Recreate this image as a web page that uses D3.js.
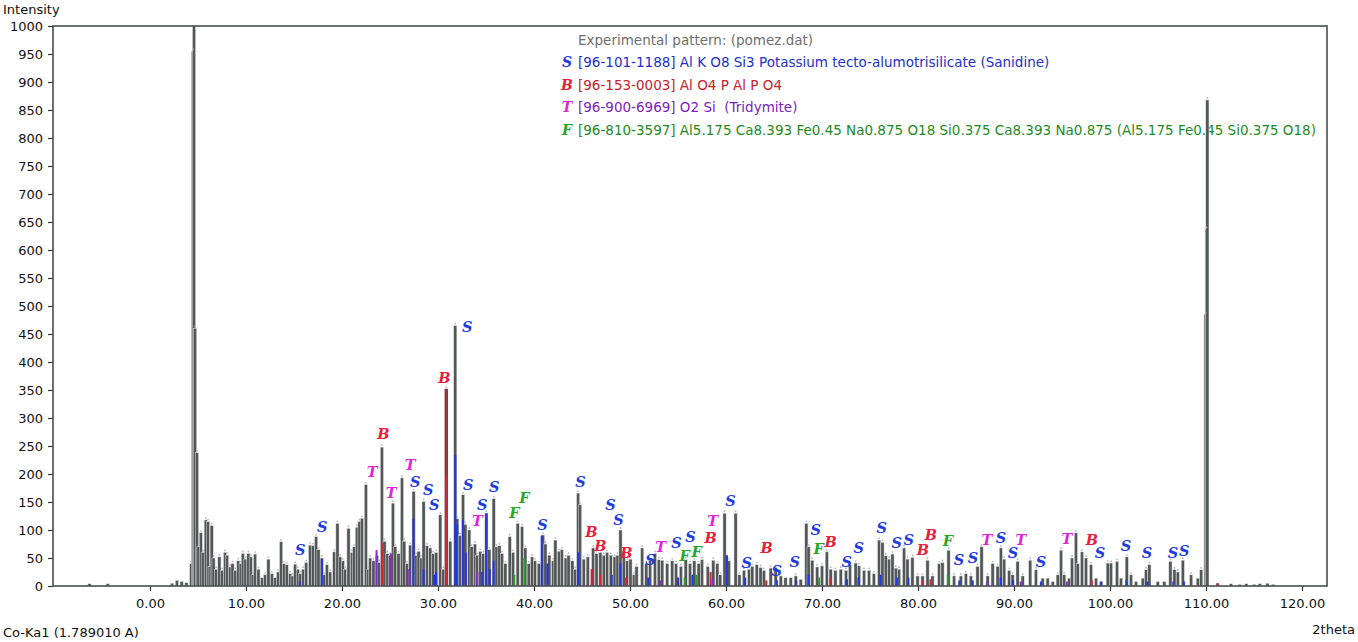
<!DOCTYPE html>
<html>
<head>
<meta charset="utf-8">
<script src="https://cdn.jsdelivr.net/npm/d3@7"></script>
<style>
  html, body { margin: 0; padding: 0; background: #ffffff; }
  svg { display: block; font-family: "DejaVu Sans", Verdana, sans-serif; }
  .mark { font-family: "DejaVu Serif", serif; font-style: italic; font-weight: bold; }
  .legend-label { white-space: pre; }
</style>
</head>
<body>
<div id="pattern-chart"></div>
<script>
// Experimental pattern, [2theta, intensity]
const experimental = [
  [-6.3, 4], [-4.4, 4], [2.3, 5], [2.8, 10], [3.3, 8], [3.8, 6], [4.3, 40],
  [4.48, 955], [4.59, 1000], [4.70, 460], [4.90, 238], [5.05, 70], [5.30, 95], [5.50, 60],
  [5.81, 118], [6.05, 115], [6.22, 35], [6.43, 108], [6.62, 50], [6.90, 30], [7.23, 52],
  [7.50, 28], [7.82, 60], [8.03, 55], [8.34, 34], [8.60, 40], [8.90, 28], [9.20, 45],
  [9.45, 40], [9.67, 58], [9.95, 48], [10.25, 58], [10.50, 52], [10.70, 20], [10.95, 57],
  [11.30, 30], [11.68, 15], [12.00, 20], [12.34, 48], [12.70, 22], [13.03, 15], [13.35, 25],
  [13.66, 79], [13.95, 40], [14.25, 38], [14.60, 22], [14.85, 18], [15.12, 39], [15.40, 30],
  [15.64, 22], [15.95, 30], [16.27, 42], [16.68, 73], [16.97, 72], [17.31, 88], [17.55, 65],
  [17.90, 50], [18.15, 20], [18.43, 38], [18.77, 25], [19.19, 61], [19.53, 112], [19.81, 52],
  [20.09, 45], [20.33, 30], [20.68, 103], [21.03, 60], [21.27, 70], [21.55, 105], [21.82, 115],
  [22.08, 121], [22.49, 181], [22.75, 30], [22.94, 50], [23.28, 45], [23.64, 55], [23.88, 42],
  [24.16, 248], [24.43, 80], [24.74, 58], [25.03, 55], [25.31, 148], [25.55, 70], [25.89, 58],
  [26.25, 193], [26.49, 80], [26.77, 40], [27.11, 73], [27.46, 169], [27.75, 55], [27.98, 62],
  [28.23, 50], [28.50, 151], [28.85, 72], [29.20, 68], [29.51, 58], [29.82, 60], [30.24, 127],
  [30.55, 30], [30.87, 352], [31.28, 80], [31.80, 465], [32.01, 120], [32.30, 90], [32.61, 163],
  [32.85, 110], [33.26, 100], [33.50, 70], [33.85, 75], [34.07, 55], [34.41, 62], [34.72, 58],
  [35.04, 130], [35.35, 65], [35.80, 156], [36.10, 70], [36.40, 72], [36.67, 58], [37.02, 40],
  [37.47, 88], [37.82, 60], [38.30, 112], [38.76, 106], [39.10, 68], [39.45, 40], [39.80, 52],
  [40.10, 45], [40.50, 40], [40.95, 91], [41.19, 75], [41.60, 55], [42.00, 45], [42.23, 82],
  [42.60, 62], [42.90, 65], [43.30, 50], [43.60, 55], [44.00, 45], [44.30, 30], [44.60, 166],
  [44.80, 145], [45.18, 48], [45.60, 52], [46.16, 68], [46.51, 58], [46.92, 60], [47.27, 55],
  [47.62, 60], [48.00, 55], [48.40, 52], [48.70, 55], [49.01, 100], [49.35, 60], [49.71, 45],
  [50.05, 48], [50.40, 20], [50.68, 35], [51.27, 68], [51.70, 40], [52.10, 45], [52.60, 58],
  [53.00, 47], [53.36, 46], [53.88, 40], [54.40, 45], [54.80, 40], [55.30, 35], [55.80, 47],
  [56.25, 40], [56.70, 45], [57.15, 40], [57.50, 47], [58.10, 35], [58.68, 46], [59.10, 40],
  [59.40, 20], [59.85, 130], [60.30, 45], [61.00, 130], [61.40, 20], [61.87, 28], [62.40, 30],
  [62.74, 35], [63.20, 38], [63.60, 33], [63.95, 28], [64.65, 32], [65.17, 33], [65.70, 18],
  [66.20, 15], [66.74, 15], [67.26, 18], [67.78, 12], [68.37, 112], [68.60, 70], [68.99, 46],
  [69.50, 34], [70.00, 36], [70.50, 61], [70.90, 30], [71.40, 28], [71.95, 30], [72.50, 28],
  [72.92, 38], [73.50, 41], [73.86, 36], [74.38, 28], [74.90, 28], [75.40, 22], [75.95, 82],
  [76.30, 78], [76.64, 54], [76.99, 48], [77.34, 57], [77.69, 32], [78.03, 30], [78.55, 68],
  [78.90, 48], [79.42, 51], [79.95, 18], [80.47, 18], [80.99, 46], [81.51, 18], [82.20, 40],
  [82.55, 42], [83.18, 64], [83.76, 18], [84.46, 18], [84.98, 22], [85.50, 18], [86.20, 35],
  [86.62, 70], [87.25, 18], [87.77, 40], [88.29, 35], [88.63, 68], [88.98, 48], [89.50, 28],
  [89.85, 20], [90.37, 44], [90.90, 18], [91.69, 46], [92.28, 29], [92.98, 14], [93.50, 14],
  [94.03, 8], [94.55, 20], [94.90, 64], [95.23, 20], [95.76, 14], [96.04, 50], [96.45, 95],
  [96.63, 40], [97.08, 61], [97.50, 50], [98.02, 38], [98.54, 14], [99.06, 8], [99.76, 41],
  [100.10, 41], [100.73, 44], [101.15, 14], [101.74, 52], [102.19, 20], [102.71, 8], [103.41, 14],
  [103.75, 29], [104.10, 38], [104.97, 8], [105.66, 8], [106.29, 44], [106.71, 29], [107.06, 25],
  [107.58, 46], [108.45, 20], [109.14, 14], [109.50, 29], [109.95, 485], [110.06, 637], [110.14, 868],
  [111.2, 5], [112.6, 4], [113.5, 3], [114.2, 4], [115.0, 3], [115.6, 4], [116.4, 5], [117.0, 3]
];

// Experimental peaks drawn in the colour of their matched phase, [2theta, intensity]
const berliniteMatched = [[30.87, 352]];

// Reference sticks per phase, [2theta, intensity]
const sanidineSticks = [
  [15.6, 8], [17.9, 48], [27.45, 120], [28.5, 30], [29.6, 20], [29.8, 25], [31.8, 234], [32.0, 110],
  [32.6, 118], [32.9, 60], [34.6, 25], [35.05, 130], [35.4, 30], [35.8, 45], [40.8, 90], [41.4, 40],
  [44.6, 60], [48.1, 20], [49.0, 40], [51.9, 15], [55.0, 15], [56.5, 20], [60.1, 55], [62.0, 15],
  [65.3, 10], [67.3, 10], [68.6, 20], [72.6, 12], [73.8, 15], [76.1, 20], [77.8, 15], [79.0, 15],
  [84.3, 10], [85.7, 10], [88.6, 15], [89.9, 10], [92.8, 8], [99.1, 8], [101.7, 10], [103.9, 8],
  [106.6, 8], [107.7, 8]
];
const berliniteSticks = [
  [24.2, 77], [30.87, 198], [46.0, 30], [46.9, 20], [49.6, 15], [58.4, 25], [64.2, 10], [70.9, 15],
  [80.5, 10], [81.3, 12], [98.1, 10], [111.2, 5]
];
const tridymiteSticks = [
  [23.6, 64], [25.1, 58], [27.0, 30], [34.1, 25], [53.2, 10], [58.6, 12], [87.2, 8], [90.7, 8], [95.5, 8]
];
const mayeniteSticks = [
  [37.95, 20], [39.0, 50], [55.7, 15], [56.9, 20], [69.7, 15], [83.1, 20]
];

// Phase marks above the peaks, [2theta, intensity]
const sanidineMarks = [
  [15.64, 64], [17.94, 106], [27.63, 186], [28.99, 172], [29.61, 145], [33.05, 463], [33.16, 181],
  [34.62, 145], [35.87, 177], [40.88, 109], [44.84, 186], [47.97, 145], [48.80, 118], [52.14, 47],
  [54.85, 77], [56.31, 88], [60.48, 152], [62.15, 41], [65.28, 27], [67.15, 43], [69.34, 100],
  [72.58, 43], [73.83, 68], [76.23, 104], [77.79, 77], [79.04, 82], [84.26, 47], [85.72, 50],
  [88.64, 86], [89.89, 59], [92.81, 43], [98.96, 59], [101.67, 72], [103.86, 59], [106.57, 59],
  [107.72, 63]
];
const berliniteMarks = [
  [24.30, 272], [30.66, 372], [45.99, 97], [46.92, 72], [49.63, 59], [58.39, 86], [64.23, 68],
  [70.91, 79], [80.50, 64], [81.33, 91], [98.12, 82]
];
const tridymiteMarks = [
  [23.15, 204], [25.13, 166], [27.11, 216], [34.10, 116], [53.18, 70], [58.60, 116], [87.17, 82],
  [90.72, 82], [95.52, 84]
];
const mayeniteMarks = [
  [37.96, 131], [39.0, 157], [55.68, 54], [56.93, 61], [69.66, 66], [83.11, 80]
];

const xTicks = d3.range(0, 121, 10);
const yTicks = d3.range(0, 1001, 50);

const legendLabels = [
  "Experimental pattern: (pomez.dat)",
  "[96-101-1188] Al K O8 Si3 Potassium tecto-alumotrisilicate (Sanidine)",
  "[96-153-0003] Al O4 P Al P O4",
  "[96-900-6969] O2 Si  (Tridymite)",
  "[96-810-3597] Al5.175 Ca8.393 Fe0.45 Na0.875 O18 Si0.375 Ca8.393 Na0.875 (Al5.175 Fe0.45 Si0.375 O18)"
];

const phases = [
  {symbol: "S", sticks: sanidineSticks, marks: sanidineMarks, stick: "#2336e6", mark: "#1f3de0", text: "#1c2fd0"},
  {symbol: "B", sticks: berliniteSticks, marks: berliniteMarks, stick: "#d42436", mark: "#e8203c", text: "#c8202c"},
  {symbol: "T", sticks: tridymiteSticks, marks: tridymiteMarks, stick: "#8a2ad0", mark: "#e024d8", text: "#7a22c4"},
  {symbol: "F", sticks: mayeniteSticks, marks: mayeniteMarks, stick: "#2c9a2c", mark: "#24a824", text: "#1e8a1e"}
];

/**
 * Stick pattern of a powder diffraction scan.
 * @class PatternChart
 */
class PatternChart {

  constructor(selector) {
    this.width = 1358;
    this.height = 642;
    this.plot = {left: 53, top: 26, right: 1327, bottom: 586};
    this.svg = d3.select('#' + selector).append('svg')
      .attr('width', this.width)
      .attr('height', this.height);
    this.x = d3.scaleLinear([-10.1, 122.6], [this.plot.left, this.plot.right]);
    this.y = d3.scaleLinear([0, 1000], [this.plot.bottom, this.plot.top]).clamp(true);
  }

  draw() {
    this.drawAxes();
    this.drawLegend();
    this.drawExperimental();
    this.drawPhases();
    this.drawFrame();
    return this;
  }

  drawAxes() {
    let xAxis = d3.axisBottom(this.x)
      .tickValues(xTicks)
      .tickFormat(d3.format('.2f'))
      .tickSize(5)
      .tickPadding(8);
    let yAxis = d3.axisLeft(this.y)
      .tickValues(yTicks)
      .tickFormat(d3.format('d'))
      .tickSize(5)
      .tickPadding(5);

    let gx = this.svg.append('g')
      .attr('transform', `translate(0,${this.plot.bottom})`)
      .call(xAxis);
    let gy = this.svg.append('g')
      .attr('transform', `translate(${this.plot.left},0)`)
      .call(yAxis);

    [gx, gy].forEach(g => {
      g.select('.domain').remove();
      g.selectAll('line').attr('stroke', '#333').attr('stroke-width', 1.2);
      g.selectAll('text').attr('fill', '#111').style('font-size', '13px')
        .style('font-family', '"DejaVu Sans", Verdana, sans-serif');
    });

    this.svg.append('text')
      .attr('x', 3).attr('y', 14)
      .style('font-size', '13px').attr('fill', '#111')
      .text('Intensity');
    this.svg.append('text')
      .attr('x', 3).attr('y', 637)
      .style('font-size', '13px').attr('fill', '#111')
      .text('Co-Ka1 (1.789010 A)');
    this.svg.append('text')
      .attr('x', 1355).attr('y', 634)
      .attr('text-anchor', 'end')
      .style('font-size', '13px').attr('fill', '#111')
      .text('2theta');
  }

  drawLegend() {
    let g = this.svg.append('g');
    let colors = ['#6e6e6e'].concat(phases.map(p => p.text));
    legendLabels.forEach((label, i) => {
      let cy = 40 + i * 22.4;
      g.append('text')
        .attr('class', 'legend-label')
        .attr('x', 578).attr('y', cy + 5)
        .attr('fill', colors[i])
        .style('font-size', '13.5px')
        .text(label);
      if (i === 0) return;
      g.append('text')
        .attr('class', 'mark')
        .attr('x', 567).attr('y', cy + 5)
        .attr('text-anchor', 'middle')
        .attr('fill', phases[i - 1].mark)
        .style('font-size', '14px')
        .text(phases[i - 1].symbol);
    });
  }

  bars(g, data, width, fill) {
    return g.selectAll('rect')
      .data(data)
      .join('rect')
      .attr('x', d => this.x(d[0]) - width / 2)
      .attr('y', d => this.y(d[1]))
      .attr('width', width)
      .attr('height', d => this.plot.bottom - this.y(d[1]))
      .attr('fill', fill);
  }

  drawExperimental() {
    let g = this.svg.append('g');
    this.bars(g, experimental, 3.2, '#535757')
      .attr('stroke', '#e4e4e4')
      .attr('stroke-width', 0.5);
    this.bars(this.svg.append('g'), berliniteMatched, 3.2, '#9c3236');
    g.selectAll('circle')
      .data(experimental.filter(d => d[1] > 15 && d[1] < 1000))
      .join('circle')
      .attr('cx', d => this.x(d[0]))
      .attr('cy', d => this.y(d[1]) - 2)
      .attr('r', 0.9)
      .attr('fill', '#b8b8b8');
  }

  drawPhases() {
    phases.forEach(phase => {
      let g = this.svg.append('g');
      this.bars(g, phase.sticks, 2, phase.stick);
      g.selectAll('text')
        .data(phase.marks)
        .join('text')
        .attr('class', 'mark')
        .attr('x', d => this.x(d[0]))
        .attr('y', d => this.y(d[1]) + 5)
        .attr('text-anchor', 'middle')
        .attr('fill', phase.mark)
        .style('font-size', '14.5px')
        .text(phase.symbol);
    });
  }

  drawFrame() {
    this.svg.append('rect')
      .attr('x', this.plot.left)
      .attr('y', this.plot.top)
      .attr('width', this.plot.right - this.plot.left)
      .attr('height', this.plot.bottom - this.plot.top)
      .attr('fill', 'none')
      .attr('stroke', '#4a4e4e')
      .attr('stroke-width', 1.6);
  }
}

new PatternChart('pattern-chart').draw();
</script>
</body>
</html>
